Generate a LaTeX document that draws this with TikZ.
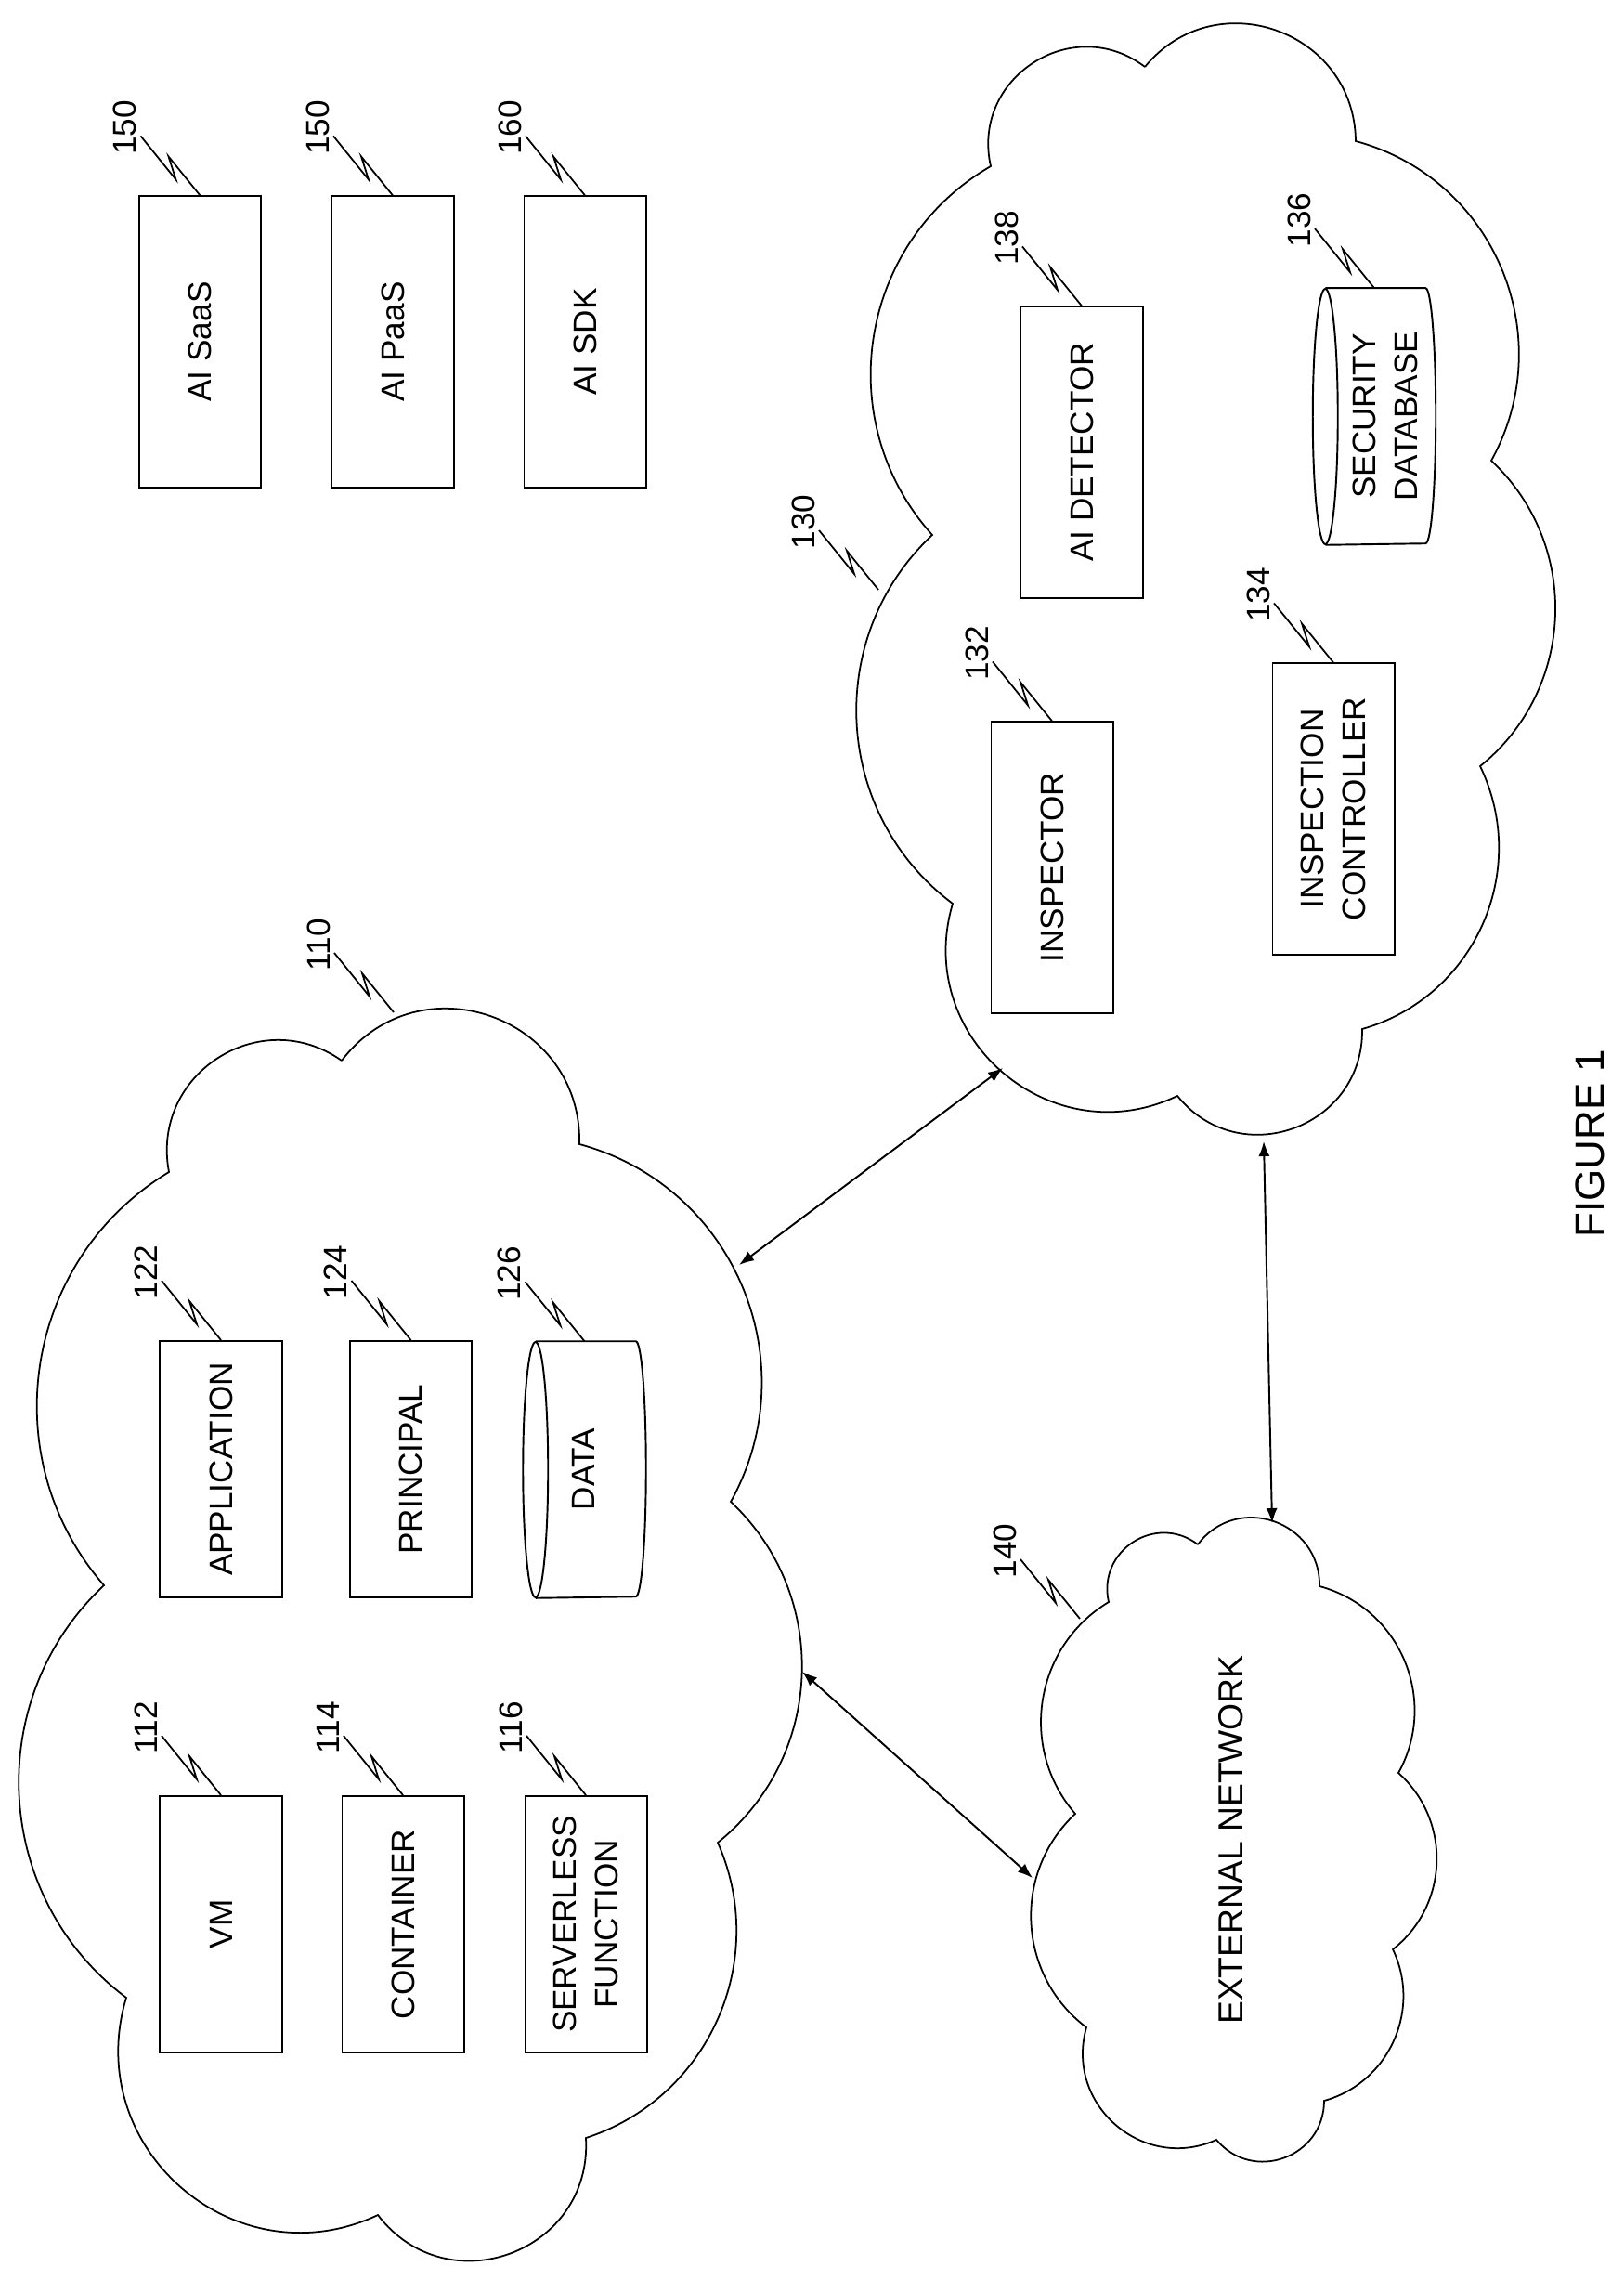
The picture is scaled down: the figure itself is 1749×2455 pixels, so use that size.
\documentclass[tikz,border=0pt]{standalone}
\usepackage{fontspec}
\setmainfont{Liberation Sans}
\usetikzlibrary{arrows.meta,calc}
\tikzset{
  lobe/.code={\pgfmathsetmacro\lobeloose{(4/3)*tan(#1/2)/(2*sin(#1))/0.3915}%
    \tikzset{bend left=#1,looseness/.expanded=\lobeloose}},
  box/.style={draw,line width=0.55pt,rotate=90,align=center,font=\fontsize{10}{12.8}\selectfont,
    minimum width=3.13cm,minimum height=1.31cm,inner sep=0pt},
  shortbox/.style={box,minimum width=2.76cm},
  drum/.style={rotate=90,minimum width=2.75cm,minimum height=1.31cm,inner sep=0pt},
  drumline/.style={line width=0.55pt},
  boxtext/.style={rotate=90,align=center,inner sep=0pt,font=\fontsize{10}{12.8}\selectfont},
  cloudline/.style={line width=0.5pt,line join=miter},
  conn/.style={{Latex[length=1.6mm,width=1.2mm]}-{Latex[length=1.6mm,width=1.2mm]},line width=0.55pt},
  leader/.style={line width=0.5pt},
  refnum/.style={rotate=90,inner sep=0pt,font=\fontsize{10}{12}\selectfont},
}
\newcommand{\refmark}[3]{\draw[leader] (#1) -- ++(-34,-42) -- ++(8,25) -- ++(-38,-47) ++(-17,-9) node[refnum] (#2) {#3};}
\newcommand{\drumshape}[1]{%
  \draw[drumline] ($(#1.north)+(13.5,0)$) ellipse [x radius=13.5,y radius=137.5];
  \draw[drumline] ($(#1.north east)+(13.5,0)$) -- ($(#1.south east)+(-11,0)$)
    arc [start angle=-90,end angle=90,x radius=11,y radius=137.5] -- ($(#1.north west)+(13.5,0)$);}
\begin{document}
\begin{tikzpicture}[x=0.01cm,y=-0.01cm]
\useasboundingbox (0,0) rectangle (1749,2455);
% clouds
\draw[cloudline] (368,1142) to[lobe=72] (624,1232) to[lobe=52] (787,1617) to[lobe=49] (773,1984)
  to[lobe=48] (631,2302) to[lobe=73] (407,2385) to[lobe=66] (136,2151) to[lobe=50] (112,1707)
  to[lobe=50] (182,1262) to[lobe=68] (368,1142);
\draw[cloudline] (1233,72) to[lobe=70] (1460,152) to[lobe=52] (1606,496) to[lobe=49] (1594,825)
  to[lobe=50] (1467,1108) to[lobe=71] (1268,1180) to[lobe=66] (1026,973) to[lobe=50] (1004,576)
  to[lobe=51] (1067,179) to[lobe=70] (1233,72);
\draw[cloudline] (1290,1663) to[lobe=72] (1421,1708) to[lobe=52] (1506,1909) to[lobe=50] (1500,2099)
  to[lobe=50] (1426,2262) to[lobe=70] (1310,2304) to[lobe=65] (1170,2183) to[lobe=50] (1158,1953)
  to[lobe=50] (1194,1725) to[lobe=70] (1290,1663);
% services
\node[box] (saas) at (215.5,368) {AI SaaS};
\node[box] (paas) at (423,368) {AI PaaS};
\node[box] (sdk) at (630,368) {AI SDK};
\refmark{saas.east}{n150a}{150}
\refmark{paas.east}{n150b}{150}
\refmark{sdk.east}{n160}{160}
% cloud 110
\node[shortbox] (vm) at (238,2072) {VM};
\node[shortbox] (container) at (434,2072) {CONTAINER};
\node[shortbox] (serverless) at (631,2072) {SERVERLESS\\FUNCTION};
\node[shortbox] (application) at (238,1582) {APPLICATION};
\node[shortbox] (principal) at (442.5,1582) {PRINCIPAL};
\node[drum] (data) at (629.5,1582.5) {};
\drumshape{data}
\node[boxtext] (datatext) at (628,1582) {DATA};
\refmark{vm.east}{n112}{112}
\refmark{container.east}{n114}{114}
\refmark{serverless.east}{n116}{116}
\refmark{application.east}{n122}{122}
\refmark{principal.east}{n124}{124}
\refmark{data.east}{n126}{126}
% cloud 130
\node[box] (inspector) at (1133,934) {INSPECTOR};
\node[box] (detector) at (1165,487) {AI DETECTOR};
\node[box] (controller) at (1436,871) {INSPECTION\\CONTROLLER};
\node[drum] (secdb) at (1480,448.5) {};
\drumshape{secdb}
\node[boxtext] (secdbtext) at (1492,448) {SECURITY\\DATABASE};
\refmark{inspector.east}{n132}{132}
\refmark{detector.east}{n138}{138}
\refmark{controller.east}{n134}{134}
\refmark{secdb.east}{n136}{136}
% cloud 140
\node[rotate=90,inner sep=0pt,font=\fontsize{10.6}{12}\selectfont] (extnet) at (1326,1981) {EXTERNAL NETWORK};
% cloud refs
\coordinate (ref110) at (424,1090);
\coordinate (ref130) at (946,635);
\coordinate (ref140) at (1163,1743);
\refmark{ref110}{n110}{110}
\refmark{ref130}{n130}{130}
\refmark{ref140}{n140}{140}
% connectors
\coordinate (top110) at (796,1362);
\coordinate (left130) at (1080,1150);
\coordinate (bot130) at (1361,1229);
\coordinate (top140) at (1370,1640);
\coordinate (right110) at (864,1800);
\coordinate (left140) at (1112,2022);
\draw[conn] (top110) -- (left130);
\draw[conn] (bot130) -- (top140);
\draw[conn] (right110) -- (left140);
\node[rotate=90,inner sep=0pt,font=\fontsize{12.5}{15}\selectfont] (fig) at (1712,1231) {FIGURE 1};
\end{tikzpicture}
\end{document}
